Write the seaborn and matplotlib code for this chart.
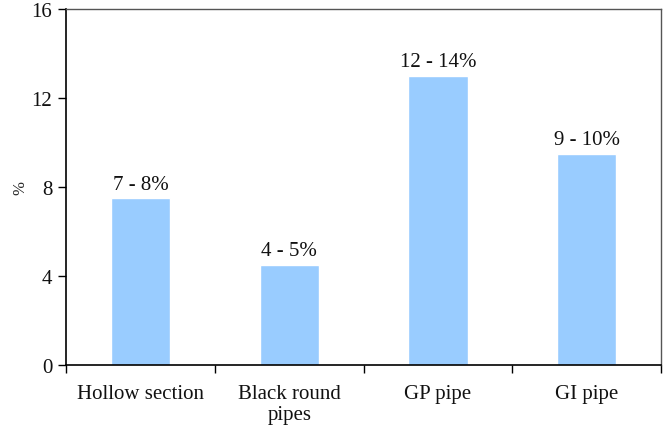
import matplotlib
matplotlib.use("Agg")
import matplotlib.pyplot as plt
import seaborn as sns
import pandas as pd
from matplotlib.ticker import FixedLocator

categories = ["Hollow section", "Black round\npipes", "GP pipe", "GI pipe"]
values = [7.5, 4.5, 13.0, 9.5]
labels = ["7 - 8%", "4 - 5%", "12 - 14%", "9 - 10%"]
yticks = [0, 4, 8, 12, 16]

sns.set_theme(style="white")
plt.rcParams["font.family"] = ["Liberation Serif", "DejaVu Serif"]

df = pd.DataFrame({"category": categories, "value": values})

fig = plt.figure(figsize=(6.69, 4.31), dpi=100)
ax = fig.add_axes([0.099, 0.151, 0.889, 0.826])

sns.barplot(data=df, x="category", y="value", color="#99CCFF",
            saturation=1, width=0.40, ax=ax)

for i, (v, t) in enumerate(zip(values, labels)):
    ax.text(i, v + 0.2, t, ha="center", va="bottom", fontsize=15, color="#111111")

ax.set_ylim(0, 16)
ax.set_xlim(-0.5, len(categories) - 0.5)
ax.set_yticks(yticks)
ax.set_xlabel("")
ax.set_ylabel("%", fontsize=12, labelpad=2)

# category separators as ticks on the x axis
ax.xaxis.set_minor_locator(FixedLocator([i - 0.5 for i in range(len(categories) + 1)]))
ax.tick_params(axis="x", which="major", bottom=True, length=0, pad=14, labelsize=15)
ax.tick_params(axis="x", which="minor", bottom=True, length=6, width=1, color="black", direction="out")
ax.tick_params(axis="y", left=True, length=6, width=1, color="black", direction="out", labelsize=15, pad=4)
for lbl in ax.get_xticklabels():
    lbl.set_color("#111111")
    lbl.set_linespacing(1.1)
for lbl in ax.get_yticklabels():
    lbl.set_color("#111111")

for side in ["left", "bottom"]:
    ax.spines[side].set_color("black")
    ax.spines[side].set_linewidth(1.2)
for side in ["top", "right"]:
    ax.spines[side].set_color("#555555")
    ax.spines[side].set_linewidth(1.0)

fig.savefig("out.png", dpi=100)
